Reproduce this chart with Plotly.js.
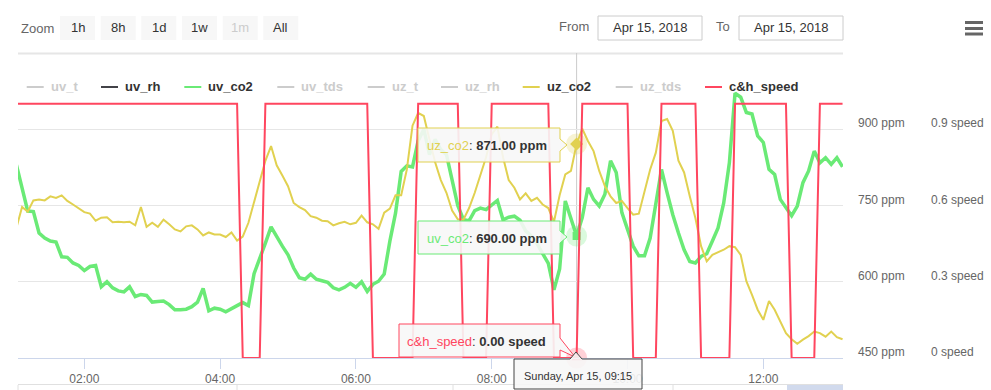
<!DOCTYPE html>
<html><head><meta charset="utf-8">
<script src="https://cdn.plot.ly/plotly-3.0.1.min.js"></script>
<style>body{margin:0;background:#fff}#chart{width:991px;height:390px}</style>
</head><body><div id="chart"></div>
<script>
// ---- data (5-minute samples, Apr 15 2018, starting 01:00) ----
const startTime = '2018-04-15 01:00';
const stepMinutes = 5;
const uv_co2 = [830,785,739,738,696,686,680,678,649,648,637,632,622,630,632,590,600,588,582,580,
590,571,575,573,560,561,562,555,545,545,546,551,560,587,543,548,546,541,548,553,
559,553,616,645,676,708,688,670,653,627,608,605,615,605,602,599,588,584,589,597,
589,600,581,595,601,615,680,735,817,828,826,877,900,850,880,860,850,800,750,722,
720,740,745,742,750,760,722,727,729,721,700,690,675,655,636,584,625,759,726,690,
726,785,762,749,772,838,815,736,703,670,651,651,686,752,821,775,732,696,663,640,
637,650,655,680,706,755,834,971,963,933,930,887,874,821,811,762,745,730,749,795,
818,857,834,844,831,844,826];
const uz_co2 = [706,747,738,760,762,760,768,765,770,759,752,744,737,734,720,726,727,717,718,717,
718,711,747,708,716,708,722,713,703,699,709,711,703,691,697,693,693,688,697,681,
689,716,755,795,838,867,829,809,788,755,747,741,729,726,720,719,711,715,718,713,
716,730,717,713,704,736,744,770,770,821,907,932,926,880,835,800,775,740,723,722,
745,775,810,845,890,905,845,800,785,762,774,759,765,752,745,718,770,811,818,871,
901,877,857,818,788,768,755,759,745,732,734,775,821,854,916,920,897,838,815,768,
725,670,640,653,658,663,670,668,653,601,574,545,525,562,545,522,499,487,478,486,
493,502,499,492,502,491,487];
const ch_speed = [1,1,1,1,1,1,1,1,1,1,1,1,1,1,1,1,1,1,1,1,
1,1,1,1,1,1,1,1,1,1,1,1,1,1,1,1,1,1,1,1,
0,0,0,0,1,1,1,1,1,1,1,1,1,1,1,1,1,1,1,1,
1,1,1,0,0,0,0,0,0,0,0,1,1,1,1,1,1,1,1,0,
0,0,0,0,1,1,1,1,1,1,1,1,1,1,1,0,0,0,0,0,
1,1,1,1,1,1,1,1,1,0,0,0,0,0,1,1,1,1,1,1,
1,0,0,0,0,0,0,1,1,1,1,1,1,1,1,1,1,0,0,0,
0,0,1,1,1,1,1];
const hoverIndex = 99; // 09:15
const ppmTicks = [450,600,750,900,1050];
const speedTicks = [0,0.3,0.6,0.9];
const legendNames = ['uv_t','uv_rh','uv_co2','uv_tds','uz_t','uz_rh','uz_co2','uz_tds','c&h_speed'];
const zoomButtons = ['1h','8h','1d','1w','1m','All'];

// ---- timestamps ----
function fmt(d){const p=n=>String(n).padStart(2,'0');
  return d.getUTCFullYear()+'-'+p(d.getUTCMonth()+1)+'-'+p(d.getUTCDate())+' '+p(d.getUTCHours())+':'+p(d.getUTCMinutes())+':00';}
const t0 = Date.UTC(2018,3,15,1,0);
const times = uv_co2.map((_,k)=>fmt(new Date(t0 + k*stepMinutes*60000)));

// ---- colours ----
const GREEN='#6aea76', YELLOW='#e1d150', RED='#ff465f';
const FONT='Liberation Sans, Arial, sans-serif';

// ---- pixel helpers for decorations ----
const L=18, T=53, W=973, H=305;
const X=px=>(px-L)/W, Y=py=>(T+H-py)/H;
const shapes=[], ann=[];
function rect(x0,y0,x1,y1,fill,lc,lw){shapes.push({type:'rect',xref:'paper',yref:'paper',x0:X(x0),x1:X(x1),y0:Y(y1),y1:Y(y0),fillcolor:fill,line:{color:lc||'rgba(0,0,0,0)',width:lw||0},layer:'above'});}
function line(x0,y0,x1,y1,c,w,layer){shapes.push({type:'line',xref:'paper',yref:'paper',x0:X(x0),x1:X(x1),y0:Y(y0),y1:Y(y1),line:{color:c,width:w},layer:layer||'above'});}
function path(pts,fill,lc,lw){let s='M'+pts.map(p=>X(p[0])+','+Y(p[1])).join(' L')+' Z';shapes.push({type:'path',xref:'paper',yref:'paper',path:s,fillcolor:fill,line:{color:lc,width:lw},layer:'above'});}
function text(px,py,t,size,color,anchor){ann.push({xref:'paper',yref:'paper',x:X(px),y:Y(py),text:t,showarrow:false,xanchor:anchor||'left',yanchor:'middle',font:{family:FONT,size:size,color:color}});}

// top gridline (1050 ppm, label hidden)
line(18,53.5,843,53.5,'#e6e6e6',2,'between');

// range selector
text(19,28.5,'Zoom',13,'#666');
const bx=[60,100.7,141.3,182,222.7,263.3];
zoomButtons.forEach((b,i)=>{rect(bx[i],16,bx[i]+35,40,'#f7f7f7');text(bx[i]+17.5,28,b,13,b==='1m'?'#ccc':'#333','center');});
text(557,27,'From',13,'#666');
rect(598,16,702,40,'#fff','#ccc',1); text(650,28,'Apr 15, 2018',13,'#333','center');
text(714,27,'To',13,'#666');
rect(739,16,843,40,'#fff','#ccc',1); text(791,28,'Apr 15, 2018',13,'#333','center');
// menu icon
[22.5,28.5,34].forEach(y=>line(965,y,983,y,'#666',3));

// legend
const legX=[26.7,101,184.3,277.3,367.7,441,522.7,615.7,705];
const legCol={'uv_rh':'#434348','uv_co2':GREEN,'uz_co2':YELLOW,'c&h_speed':RED};
legendNames.forEach((n,i)=>{const c=legCol[n];line(legX[i],87,legX[i]+17,87,c||'#ccc',2);
  text(legX[i]+22,86.5,'<b>'+n.replace('&','&amp;')+'</b>',13,c?'#333':'#ccc');});

// navigator strip
line(18,384.5,843,384.5,'#e0e0e0',1);
[18,237,453,673].forEach(x=>line(x,385,x,390,'#e0e0e0',1));
rect(787,385,843,390,'rgba(102,133,194,0.3)');

// crosshair
shapes.push({type:'line',xref:'x',yref:'paper',x0:times[hoverIndex],x1:times[hoverIndex],y0:0,y1:1,line:{color:'#cccccc',width:1},layer:'between'});

// tooltips
const TF='rgba(247,247,247,0.9)';
path([[418,128],[560,128],[560,139],[567,145],[560,151],[560,162],[418,162]],TF,YELLOW,1);
text(425,145,'<span style="color:'+YELLOW+'">uz_co2</span>: <b>'+uz_co2[hoverIndex].toFixed(2)+' ppm</b>',13,'#333');
path([[418,221],[560,221],[560,231],[567,237],[560,243],[560,254],[418,254]],TF,GREEN,1);
text(425,238,'<span style="color:'+GREEN+'">uv_co2</span>: <b>'+uv_co2[hoverIndex].toFixed(2)+' ppm</b>',13,'#333');
path([[399,324],[560,324],[560,338],[575,357],[560,350],[560,357],[399,357]],TF,RED,1);
text(405,341.5,'<span style="color:'+RED+'">c&amp;h_speed</span>: <b>'+ch_speed[hoverIndex].toFixed(2)+' speed</b>',13,'#333');
path([[514,359],[570,359],[576,352],[582,359],[642,359],[642,389],[514,389]],TF,'#444',1);
text(522,376,'Sunday, Apr 15, 09:15',11,'#333');

const traces=[
 {x:times,y:uv_co2,name:'uv_co2',type:'scatter',mode:'lines',line:{color:GREEN,width:3.5},yaxis:'y'},
 {x:times,y:uz_co2,name:'uz_co2',type:'scatter',mode:'lines',line:{color:YELLOW,width:2},yaxis:'y'},
 {x:times,y:ch_speed,name:'c&h_speed',type:'scatter',mode:'lines',line:{color:RED,width:2},yaxis:'y2'},
 {x:[times[hoverIndex]],y:[uz_co2[hoverIndex]],mode:'markers',marker:{size:21,color:'rgba(225,209,80,0.25)'},yaxis:'y',cliponaxis:false},
 {x:[times[hoverIndex]],y:[uz_co2[hoverIndex]],mode:'markers',marker:{size:10,symbol:'diamond',color:YELLOW},yaxis:'y',cliponaxis:false},
 {x:[times[hoverIndex]],y:[uv_co2[hoverIndex]],mode:'markers',marker:{size:21,color:'rgba(106,234,118,0.25)'},yaxis:'y',cliponaxis:false},
 {x:[times[hoverIndex]],y:[uv_co2[hoverIndex]],mode:'markers',marker:{size:8,symbol:'square',color:GREEN},yaxis:'y',cliponaxis:false},
 {x:[times[hoverIndex]],y:[ch_speed[hoverIndex]],mode:'markers',marker:{size:21,color:'rgba(255,70,95,0.25)'},yaxis:'y2',cliponaxis:false},
 {x:[times[hoverIndex]],y:[ch_speed[hoverIndex]],mode:'markers',marker:{size:9,symbol:'triangle-up',color:RED},yaxis:'y2',cliponaxis:false}
];

const layout={
 width:991,height:390,margin:{l:L,r:0,t:T,b:32},
 paper_bgcolor:'#fff',plot_bgcolor:'#fff',showlegend:false,
 font:{family:FONT,color:'#666'},
 xaxis:{domain:[0,825/W],type:'date',range:['2018-04-15 01:01:24','2018-04-15 13:10:24'],
   showgrid:false,zeroline:false,showline:true,linecolor:'#ccd6eb',linewidth:1,
   ticks:'outside',ticklen:10,tickcolor:'#ccd6eb',tickwidth:1,
   tick0:'2018-04-15 00:00',dtick:7200000,tickformat:'%H:%M',tickfont:{size:12,color:'#666'}},
 yaxis:{range:[450,1050],side:'right',tickvals:ppmTicks,ticktext:ppmTicks.map((v,i)=>i===ppmTicks.length-1?'':v+' ppm'),
   showgrid:true,gridcolor:'#e6e6e6',gridwidth:1,zeroline:false,showline:false,ticks:'',
   ticklabelstandoff:14,ticklabelshift:-6,tickfont:{size:12,color:'#666'}},
 yaxis2:{range:[0,1.2],overlaying:'y',side:'right',anchor:'free',position:(930-L)/W,
   tickvals:speedTicks,ticktext:speedTicks.map(v=>v+' speed'),showgrid:false,zeroline:false,showline:false,ticks:'',
   ticklabelshift:-6,tickfont:{size:12,color:'#666'}},
 shapes:shapes,annotations:ann
};
Plotly.newPlot('chart',traces,layout,{displayModeBar:false,staticPlot:true});
</script></body></html>
